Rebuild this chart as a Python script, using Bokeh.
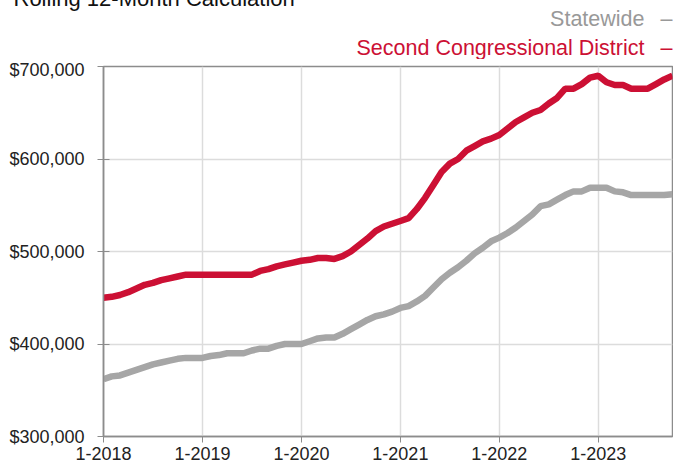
from bokeh.plotting import figure
from bokeh.layouts import column, row
from bokeh.models import FixedTicker, NumeralTickFormatter, Range1d, ColumnDataSource
from bokeh.core.properties import value
from bokeh.embed import file_html
from bokeh.resources import INLINE

# ---- data (thousands of dollars, monthly Jan 2018 .. Oct 2023) ----
month_index = list(range(70))
district = [450, 451, 453, 456, 460, 464, 466, 469, 471, 473, 475, 475,
            475, 475, 475, 475, 475, 475, 475, 479, 481, 484, 486, 488,
            490, 491, 493, 493, 492, 495, 500, 507, 514, 522, 527, 530,
            533, 536, 546, 558, 572, 586, 595, 600, 609, 614, 619, 622,
            626, 633, 640, 645, 650, 653, 660, 666, 676, 676, 681, 688,
            690, 683, 680, 680, 676, 676, 676, 681, 686, 690]
statewide = [362, 365, 366, 369, 372, 375, 378, 380, 382, 384, 385, 385,
             385, 387, 388, 390, 390, 390, 393, 395, 395, 398, 400, 400,
             400, 403, 406, 407, 407, 411, 416, 421, 426, 430, 432, 435,
             439, 441, 446, 452, 461, 470, 477, 483, 490, 498, 504, 511,
             515, 520, 526, 533, 540, 549, 551, 556, 561, 565, 565, 569,
             569, 569, 565, 564, 561, 561, 561, 561, 561, 562]
tick_positions = [0, 12, 24, 36, 48, 60]
tick_labels = ["1-2018", "1-2019", "1-2020", "1-2021", "1-2022", "1-2023"]
y_ticks = [300000, 400000, 500000, 600000, 700000]
title_text = "Rolling 12-Month Calculation"
series_names = ["Statewide", "Second Congressional District"]

RED = "#CC1034"
GRAY = "#A6A6A6"
FONT = "Liberation Sans"

# ---------------- header strip (title + legend), pixel coordinates ----------------
top = figure(width=673, height=67, output_backend="svg", toolbar_location=None,
             x_range=Range1d(0, 673), y_range=Range1d(59, -8),
             x_axis_type=None, y_axis_type=None, min_border=0)
top.outline_line_color = None
top.grid.visible = False
top.background_fill_color = "white"
top.border_fill_color = "white"

top.text(x=[13], y=[-2.4], text=[title_text], text_font=value(FONT),
         text_font_size="22px", text_color="#111111",
         text_baseline="middle", text_align="left")
top.text(x=[644, 644], y=[18.5, 47.5], text=series_names, text_font=value(FONT),
         text_font_size="21.5px", text_color=["#999999", RED],
         text_baseline="middle", text_align="right")
top.text(x=[672, 672], y=[18.5, 47.5], text=["\u2013", "\u2013"], text_font=value(FONT),
         text_font_size="21.5px", text_color=["#999999", RED],
         text_baseline="middle", text_align="right")

# ---------------- main chart ----------------
src = ColumnDataSource(dict(
    x=month_index,
    district=[v * 1000 for v in district],
    statewide=[v * 1000 for v in statewide],
))

p = figure(width=673, height=415, output_backend="svg", toolbar_location=None,
           x_range=Range1d(0, 69), y_range=Range1d(300000, 700000),
           min_border_left=103, min_border_right=1, min_border_top=7,
           min_border_bottom=38)
p.background_fill_color = "white"
p.border_fill_color = "white"
p.outline_line_color = "#8c8c8c"
p.outline_line_width = 1.5

p.line("x", "statewide", source=src, color=GRAY, line_width=6.5)
p.line("x", "district", source=src, color=RED, line_width=6.5)

p.xaxis.ticker = FixedTicker(ticks=tick_positions)
p.xaxis.major_label_overrides = {t: l for t, l in zip(tick_positions, tick_labels)}
p.yaxis.ticker = FixedTicker(ticks=y_ticks)
p.yaxis.formatter = NumeralTickFormatter(format="$0,0")
for ax in (p.xaxis, p.yaxis):
    ax.axis_line_color = "#8c8c8c"
    ax.axis_line_width = 1.5
    ax.major_tick_line_color = "#8c8c8c"
    ax.major_tick_line_width = 1
    ax.minor_tick_line_color = None
    ax.major_label_text_font = FONT
    ax.major_label_text_font_size = "18px"
    ax.major_label_text_color = "#222222"
p.yaxis.major_tick_in = 6
p.yaxis.major_tick_out = 6
p.yaxis.major_label_standoff = 13
p.xaxis.major_tick_in = 0
p.xaxis.major_tick_out = 6
p.xaxis.major_label_standoff = 4

p.xgrid.ticker = FixedTicker(ticks=tick_positions)
p.ygrid.ticker = FixedTicker(ticks=y_ticks)
p.grid.grid_line_color = "#dcdcdc"
p.grid.grid_line_width = 1.5

layout = column(row(top), p, margin=(-8, 0, -14, 0))
open("out.html", "w").write(file_html(layout, INLINE))
